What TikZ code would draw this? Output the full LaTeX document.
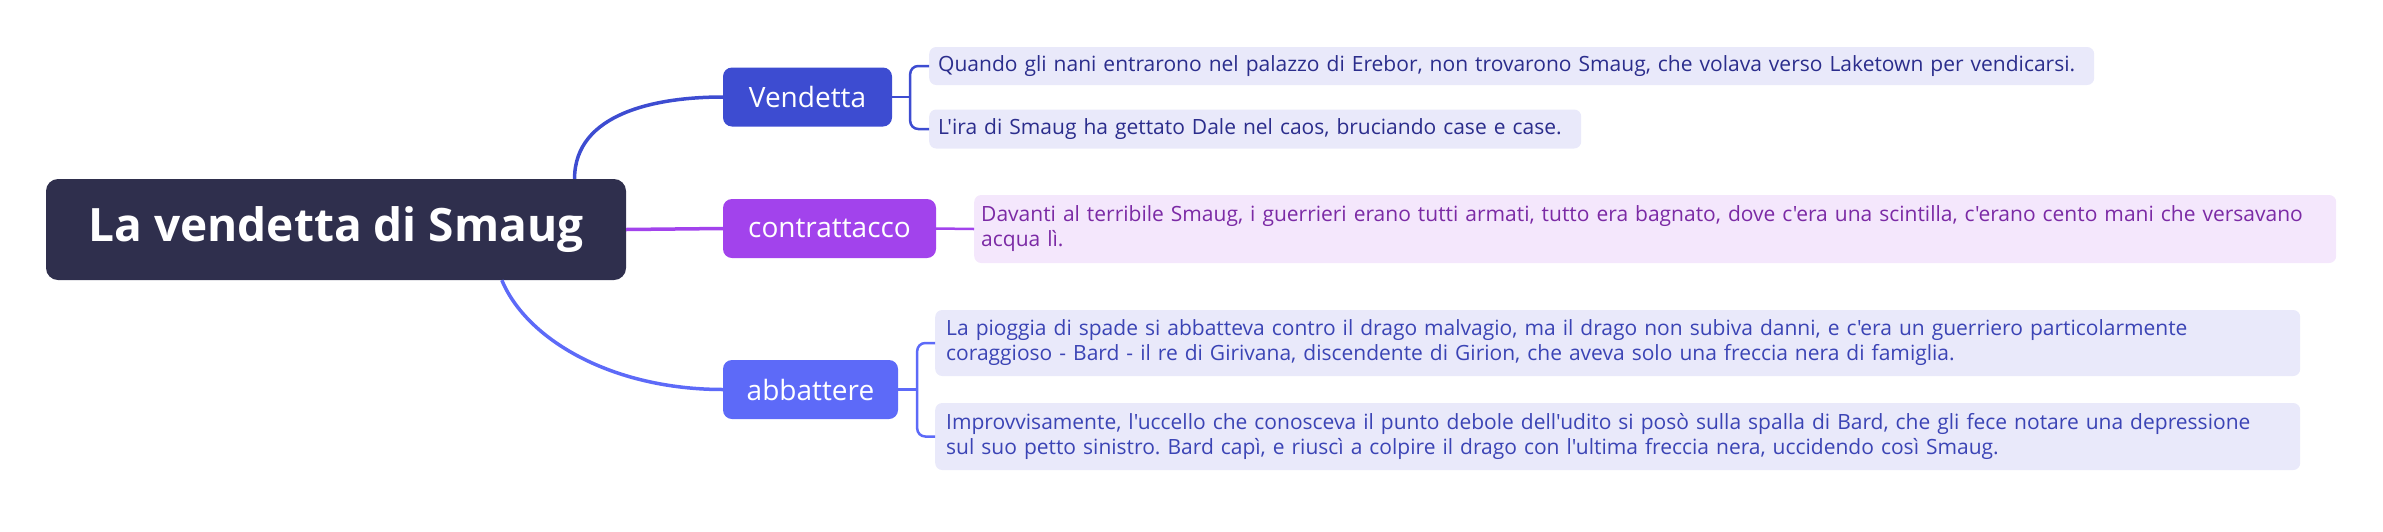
\documentclass[tikz,border=0pt]{standalone}
\usepackage{fontspec}
\setmainfont{Open Sans}[Ligatures=TeXOff]
\usepackage{tikz}

\definecolor{rootcol}{HTML}{2F2F4D}
\definecolor{vendcol}{HTML}{3D4CD1}
\definecolor{contcol}{HTML}{A243EC}
\definecolor{abbcol}{HTML}{5D6AF8}
\definecolor{leafblue}{HTML}{E9E9FA}
\definecolor{leafpurple}{HTML}{F4E7FC}
\definecolor{textnavy}{HTML}{2B2D8C}
\definecolor{textpurple}{HTML}{7B2AA5}
\definecolor{textblue}{HTML}{3B44B5}
\frenchspacing

\begin{document}
\begin{tikzpicture}[x=1pt, y=-1pt,
	rootbox/.style={fill=rootcol, text=white, rounded corners=12pt, minimum width=580pt, minimum height=101pt, font=\fontsize{46}{54}\selectfont\bfseries},
	branchbox/.style={rounded corners=9pt, text=white, minimum height=59pt, font=\fontsize{28}{34}\selectfont},
	leafbox/.style={rounded corners=7pt, anchor=west, align=left, inner ysep=0pt, font=\fontsize{21}{25}\selectfont},
	link/.style={line width=3.5pt},
	brace/.style={line width=2.5pt, rounded corners=8pt}]
	\useasboundingbox (0,0) rectangle (2383,531);
	\node[rootbox] (root) at (336,229.5) {La vendetta di Smaug};
	\node[branchbox, fill=vendcol, minimum width=169pt] (vend) at (807.5,97) {Vendetta};
	\node[branchbox, fill=contcol, minimum width=213pt] (cont) at (829.5,228.5) {contrattacco};
	\node[branchbox, fill=abbcol, minimum width=175pt] (abb) at (810.5,389.5) {abbattere};
	\node[leafbox, fill=leafblue, text=textnavy, inner xsep=9pt, text width=1147pt, minimum height=38pt] (v1) at (929,66) {Quando gli nani entrarono nel palazzo di Erebor, non trovarono Smaug, che volava verso Laketown per vendicarsi.};
	\node[leafbox, fill=leafblue, text=textnavy, inner xsep=9pt, text width=634pt, minimum height=39pt] (v2) at (929,129) {L'ira di Smaug ha gettato Dale nel caos, bruciando case e case.};
	\node[leafbox, fill=leafpurple, text=textpurple, inner xsep=7pt, text width=1348pt, minimum height=68pt] (c1) at (974,229) {Davanti al terribile Smaug, i guerrieri erano tutti armati, tutto era bagnato, dove c'era una scintilla, c'erano cento mani che versavano\\acqua lì.};
	\node[leafbox, fill=leafblue, text=textblue, inner xsep=11pt, text width=1343pt, minimum height=66pt] (a1) at (935,343) {La pioggia di spade si abbatteva contro il drago malvagio, ma il drago non subiva danni, e c'era un guerriero particolarmente\\coraggioso - Bard - il re di Girivana, discendente di Girion, che aveva solo una freccia nera di famiglia.};
	\node[leafbox, fill=leafblue, text=textblue, inner xsep=11pt, text width=1343pt, minimum height=67pt] (a2) at (935,436.5) {Improvvisamente, l'uccello che conosceva il punto debole dell'udito si posò sulla spalla di Bard, che gli fece notare una depressione\\sul suo petto sinistro. Bard capì, e riuscì a colpire il drago con l'ultima freccia nera, uccidendo così Smaug.};
	% main branches
	\draw[link, vendcol] (root.12) .. controls +(0,-66) and +(-66,0) .. (vend.west);
	\draw[link, contcol] (root.east) -- (cont.west);
	\draw[link, abbcol] (root.-17) .. controls +(25,60) and +(-110,0) .. (abb.west);
	% brackets
	\coordinate (vfork) at ([xshift=18pt]vend.east);
	\coordinate (afork) at ([xshift=19pt]abb.east);
	\draw[brace, vendcol] (vend.east) -- (vfork);
	\draw[brace, vendcol] (v1.west) -| (vfork) |- (v2.west);
	\draw[brace, contcol] (cont.east) -- (c1.west);
	\draw[brace, abbcol] (abb.east) -- (afork);
	\draw[brace, abbcol] (a1.west) -| (afork) |- (a2.west);
\end{tikzpicture}
\end{document}
